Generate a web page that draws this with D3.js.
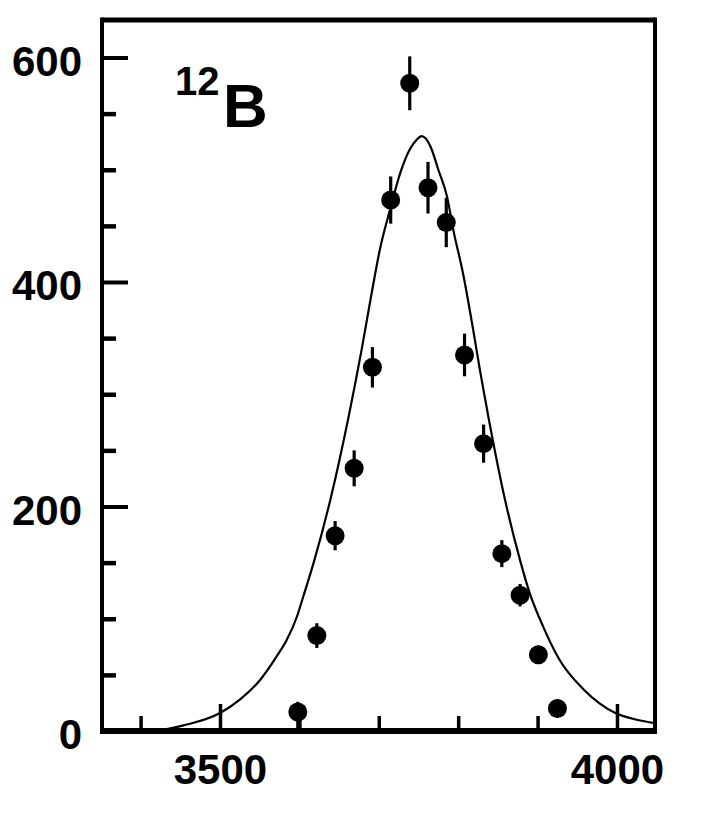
<!DOCTYPE html>
<html><head><meta charset="utf-8">
<script src="https://cdn.jsdelivr.net/npm/d3@7"></script>
<style>body{margin:0;background:#fff}svg{display:block}</style>
</head><body>
<svg id="c" width="707" height="814"></svg>
<script>
// ---- data ----
const energies = [3598,3622,3645,3669,3692,3715,3739,3762,3785,3808,3832,3855,3878,3901,3925];
const counts   = [17,85,174,234,324,473,577,484,453,335,256,158,121,68,20];
const errLow   = [17,11,13,16,18,21,24,23,22,19,17,12,10,8,8];
const errHigh  = [9,11,13,16,18,21,24,23,22,19,17,12,10,8,8];

const fitX = [3428,3454,3500,3525,3550,3571,3584,3597,3605,3618,3639,3662,3679,3691,3702,3714,3727,3739,3748,3754,3765,3775,3786,3794,3806,3819,3828,3838,3859,3878,3890,3907,3928,3958,3998,4025,4048];
const fitY = [1,5,16,28,45,66,81,102,120,150,206,280,342,390,431,464,497,518,527,530,521,500,476,446,408,357,319,280,206,152,123,93,63,37,16,10,7];

const yMajorTicks = [0,200,400,600];
const yMinorTicks = [50,100,150,250,300,350,450,500,550];
const xMajorTicks = [3500,4000];
const xMinorTicks = [3400,3600,3700,3800,3900];
const isotopeMass = "12";
const isotopeSymbol = "B";

// ---- layout ----
const W = 707, H = 814;
const m = {left:102, right:52, top:20, bottom:83};
const svg = d3.select("#c");
const x = d3.scaleLinear().domain([3351.4, 4047.9]).range([m.left, W - m.right]);
const y = d3.scaleLinear().domain([0, 633.4]).range([H - m.bottom, m.top]);

svg.append("defs").append("clipPath").attr("id","plot")
  .append("rect").attr("x", m.left).attr("y", m.top)
  .attr("width", W - m.left - m.right).attr("height", H - m.top - m.bottom);

// fit curve
const line = d3.line().x((d,i)=>x(fitX[i])).y((d,i)=>y(fitY[i])).curve(d3.curveMonotoneX);
svg.append("path").datum(fitX).attr("d", line)
  .attr("fill","none").attr("stroke","#000").attr("stroke-width",2.2)
  .attr("clip-path","url(#plot)");

// error bars
const g = svg.append("g").attr("clip-path","url(#plot)");
g.selectAll("line.err").data(energies).join("line").attr("class","err")
  .attr("x1",(d)=>x(d)).attr("x2",(d)=>x(d))
  .attr("y1",(d,i)=>y(counts[i]+errHigh[i]))
  .attr("y2",(d,i)=>y(Math.max(0,counts[i]-errLow[i])))
  .attr("stroke","#000").attr("stroke-width",3.2);
g.selectAll("circle").data(energies).join("circle")
  .attr("cx",(d)=>x(d)).attr("cy",(d,i)=>y(counts[i])).attr("r",9.5)
  .attr("fill","#000");

const font = "'Liberation Sans', Arial, Helvetica, sans-serif";

// y axis
const yAx = svg.append("g").attr("transform",`translate(${m.left},0)`)
  .call(d3.axisLeft(y).tickValues(yMajorTicks).tickSize(-26).tickPadding(20).tickFormat(d3.format("d")));
const yAxMinor = svg.append("g").attr("transform",`translate(${m.left},0)`)
  .call(d3.axisLeft(y).tickValues(yMinorTicks).tickSize(-14).tickFormat(""));
// x axis
const xAx = svg.append("g").attr("transform",`translate(0,${H - m.bottom})`)
  .call(d3.axisBottom(x).tickValues(xMajorTicks).tickSize(-27).tickPadding(23).tickFormat(d3.format("d")));
const xAxMinor = svg.append("g").attr("transform",`translate(0,${H - m.bottom})`)
  .call(d3.axisBottom(x).tickValues(xMinorTicks).tickSize(-15).tickFormat(""));

[yAx,yAxMinor,xAx,xAxMinor].forEach(a=>{
  a.select(".domain").remove();
  a.selectAll(".tick line").attr("stroke","#000");
  a.selectAll("text").attr("fill","#000").style("font-family",font)
    .style("font-size","42px").style("font-weight","bold");
});
yAx.selectAll(".tick line").attr("stroke-width",4);
yAxMinor.selectAll(".tick line").attr("stroke-width",4.5);
xAx.selectAll(".tick line").attr("stroke-width",3.5);
xAxMinor.selectAll(".tick line").attr("stroke-width",3.5);
yAx.selectAll("text").attr("dy","0.42em");

// frame
const x0 = m.left, x1 = W - m.right, y0 = m.top, y1 = H - m.bottom;
svg.append("line").attr("x1",x0).attr("x2",x1).attr("y1",y0).attr("y2",y0).attr("stroke","#000").attr("stroke-width",5);
svg.append("line").attr("x1",x1).attr("x2",x1).attr("y1",y0-2.5).attr("y2",y1).attr("stroke","#000").attr("stroke-width",4);
svg.append("line").attr("x1",x0).attr("x2",x0).attr("y1",y0-2.5).attr("y2",y1+3).attr("stroke","#000").attr("stroke-width",4);
svg.append("line").attr("x1",x0-2).attr("x2",x1+2).attr("y1",y1).attr("y2",y1).attr("stroke","#000").attr("stroke-width",6);

// isotope label
const lab = svg.append("text").attr("fill","#000").style("font-family",font).style("font-weight","bold");
lab.append("tspan").attr("x",175).attr("y",95).style("font-size","40px").text(isotopeMass);
lab.append("tspan").attr("x",223).attr("y",127).style("font-size","62px").text(isotopeSymbol);
</script>
</body></html>
